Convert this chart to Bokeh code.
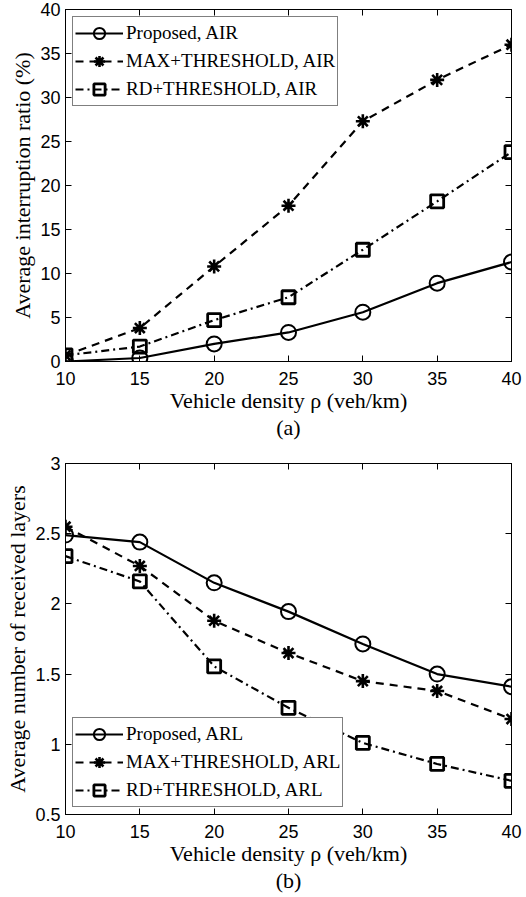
from bokeh.plotting import figure
from bokeh.layouts import column
from bokeh.models import LinearAxis, FixedTicker, Range1d
from bokeh.embed import file_html
from bokeh.resources import INLINE

# ---------------- data ----------------
density = [10, 15, 20, 25, 30, 35, 40]

air_proposed = [0.0, 0.4, 2.0, 3.3, 5.6, 8.9, 11.3]
air_max = [0.7, 3.8, 10.8, 17.7, 27.3, 32.0, 36.0]
air_rd = [0.7, 1.7, 4.7, 7.3, 12.7, 18.2, 23.8]

arl_proposed = [2.49, 2.44, 2.15, 1.945, 1.715, 1.50, 1.41]
arl_max = [2.55, 2.27, 1.88, 1.65, 1.45, 1.38, 1.18]
arl_rd = [2.34, 2.16, 1.555, 1.26, 1.01, 0.86, 0.74]

x_ticks = [10, 15, 20, 25, 30, 35, 40]
air_ticks = [0, 5, 10, 15, 20, 25, 30, 35, 40]
arl_ticks = [0.5, 1, 1.5, 2, 2.5, 3]
arl_tick_labels = ["0.5", "1", "1.5", "2", "2.5", "3"]

air_labels = ["Proposed, AIR", "MAX+THRESHOLD, AIR", "RD+THRESHOLD, AIR"]
arl_labels = ["Proposed, ARL", "MAX+THRESHOLD, ARL", "RD+THRESHOLD, ARL"]

SERIF = "Liberation Serif"
SANS = "Liberation Sans"


def style_axis(ax, show_labels=True):
    ax.major_tick_in = 6
    ax.major_tick_out = 0
    ax.minor_tick_in = 0
    ax.minor_tick_out = 0
    ax.axis_line_color = "black"
    ax.major_tick_line_color = "black"
    ax.major_label_text_font = SANS
    ax.major_label_text_color = "black"
    ax.major_label_text_font_size = "18px"
    ax.axis_label_text_font = SERIF
    ax.axis_label_text_font_style = "normal"
    ax.axis_label_text_font_size = "22px"
    ax.axis_label_text_color = "black"
    ax.axis_label_text_line_height = 1.1
    ax.major_label_standoff = 5
    ax.axis_label_standoff = 2
    if not show_labels:
        ax.major_label_overrides = {t: "" for t in ax.ticker.ticks}
        ax.major_label_standoff = 0


def make_fig(height, top, bottom, y0, y1, yticks, ylabel, series, labels, tag, legend_loc,
             overrides=None):
    p = figure(width=526, height=height, x_range=Range1d(10, 40), y_range=Range1d(y0, y1),
               output_backend="svg", toolbar_location=None,
               min_border_left=65, min_border_right=15,
               min_border_top=top, min_border_bottom=bottom)
    p.grid.visible = False
    p.outline_line_color = "black"
    p.outline_line_width = 1
    p.background_fill_color = "white"
    p.border_fill_color = "white"

    p.xaxis.ticker = FixedTicker(ticks=x_ticks)
    p.yaxis.ticker = FixedTicker(ticks=yticks)
    p.xaxis.axis_label = "Vehicle density \u03c1 (veh/km)\n" + tag
    p.yaxis.axis_label = ylabel
    for ax in p.xaxis + p.yaxis:
        style_axis(ax)
    p.xaxis.major_label_standoff = 10
    p.xaxis.axis_label_standoff = 0
    if overrides:
        p.yaxis.major_label_overrides = overrides

    top_ax = LinearAxis(ticker=FixedTicker(ticks=x_ticks))
    right_ax = LinearAxis(ticker=FixedTicker(ticks=yticks))
    style_axis(top_ax, False)
    style_axis(right_ax, False)
    p.add_layout(top_ax, "above")
    p.add_layout(right_ax, "right")

    dashes = ["solid", "8 6", "8 4 2 4"]
    markers = ["circle", "asterisk", "square"]
    sizes = [15, 14, 13]
    widths = [2, 2.6, 2.8]
    for ys, lab, dash, mk, sz, w in zip(series, labels, dashes, markers, sizes, widths):
        p.line(density, ys, line_color="black", line_width=2.2, line_dash=dash, legend_label=lab)
        p.scatter(density, ys, marker=mk, size=sz, line_color="black", line_width=w,
                  fill_color=None, legend_label=lab)

    lg = p.legend[0]
    lg.location = legend_loc
    lg.margin = 7
    lg.border_line_color = "black"
    lg.border_line_width = 1
    lg.background_fill_color = "white"
    lg.background_fill_alpha = 1
    lg.label_text_font = SERIF
    lg.label_text_font_size = "19px"
    lg.label_text_color = "black"
    lg.glyph_width = 48
    lg.glyph_height = 28
    lg.label_height = 20
    lg.label_standoff = 3
    lg.padding = 2
    lg.spacing = -6
    return p


p1 = make_fig(446, 9, 85, 0, 40, air_ticks, "Average interruption ratio (%)",
              [air_proposed, air_max, air_rd], air_labels, "(a)", "top_left")
p2 = make_fig(450, 17, 82, 0.5, 3, arl_ticks, "Average number of received layers",
              [arl_proposed, arl_max, arl_rd], arl_labels, "(b)", "bottom_left",
              overrides={t: l for t, l in zip(arl_ticks, arl_tick_labels)})

layout = column(p1, p2, spacing=0)
open("out.html", "w").write(file_html(layout, INLINE))
